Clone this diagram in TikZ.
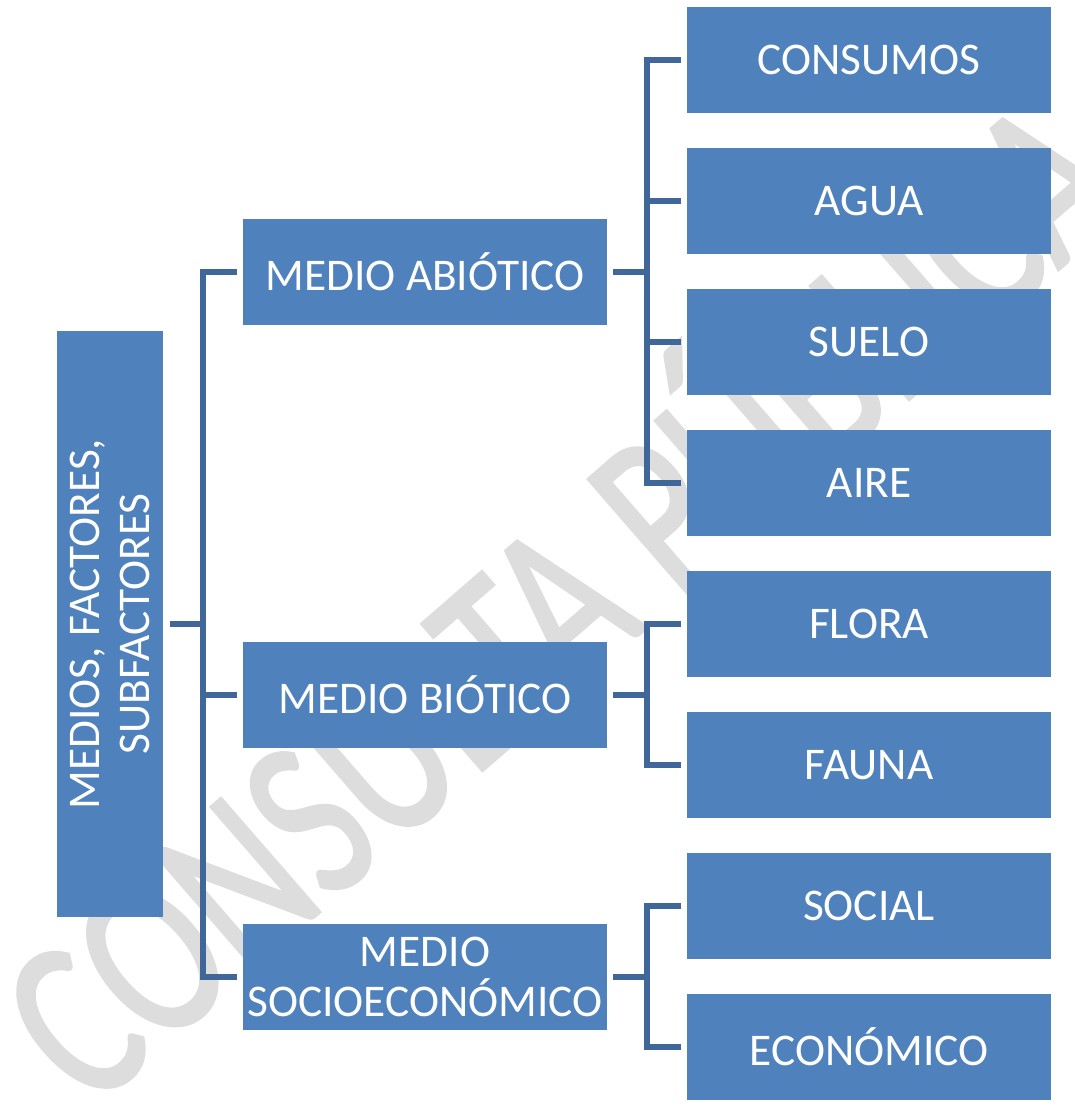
\documentclass[tikz,border=0pt]{standalone}
\usepackage{fontspec}
\setmainfont{Carlito}
\newfontfamily\wmfont[FakeBold=1.5]{Carlito}
\definecolor{boxblue}{RGB}{79,129,189}
\definecolor{lineblue}{RGB}{63,103,154}
\definecolor{wmgray}{RGB}{221,221,221}
\begin{document}
\begin{tikzpicture}[x=0.75pt,y=-0.75pt,
	box/.style={ fill=boxblue, text=white, inner sep=2pt, minimum width=273pt, minimum height=79.5pt, align=center, font=\fontsize{34}{37}\selectfont },
	rootbox/.style={ box, rotate=90, minimum width=440pt, minimum height=79.5pt },
	conn/.style={ draw=lineblue, line width=3.8pt }
]
\useasboundingbox (0,0) rectangle (1075,1115);

% watermark
\node at (548,585) (wm) [rotate=41, yscale=1.35, text=wmgray, font=\wmfont\fontsize{130}{130}\selectfont] {CONSULTA PÚBLICA};

% boxes
\node at (110,624) (root) [rootbox] {MEDIOS, FACTORES,\\SUBFACTORES};
\node at (425,272) (abio) [box] {MEDIO ABIÓTICO};
\node at (425,695) (bio) [box] {MEDIO BIÓTICO};
\node at (425,977) (socio) [box] {MEDIO\\SOCIOECONÓMICO};
\node at (869,60) (cons) [box] {CONSUMOS};
\node at (869,201) (agua) [box] {AGUA};
\node at (869,342) (suelo) [box] {SUELO};
\node at (869,483) (aire) [box] {AIRE};
\node at (869,624) (flora) [box] {FLORA};
\node at (869,765) (fauna) [box] {FAUNA};
\node at (869,906) (social) [box] {SOCIAL};
\node at (869,1047) (econ) [box] {ECONÓMICO};

% connectors
\coordinate (busr) at (203,624);
\coordinate (busa) at (647,272);
\coordinate (busb) at (647,695);
\coordinate (busc) at (647,977);
\draw[conn,shorten <=5pt] (root.south) -- (busr);
\foreach \n in {abio,bio,socio}
	\draw[conn,shorten <=4.5pt] (\n.west) -| (busr);
\foreach \m/\b in {abio/busa,bio/busb,socio/busc}
	\draw[conn,shorten <=4.5pt] (\m.east) -- (\b);
\foreach \n in {cons,agua,suelo,aire}
	\draw[conn,shorten <=4pt] (\n.west) -| (busa);
\foreach \n in {flora,fauna}
	\draw[conn,shorten <=4pt] (\n.west) -| (busb);
\foreach \n in {social,econ}
	\draw[conn,shorten <=4pt] (\n.west) -| (busc);

\end{tikzpicture}
\end{document}
